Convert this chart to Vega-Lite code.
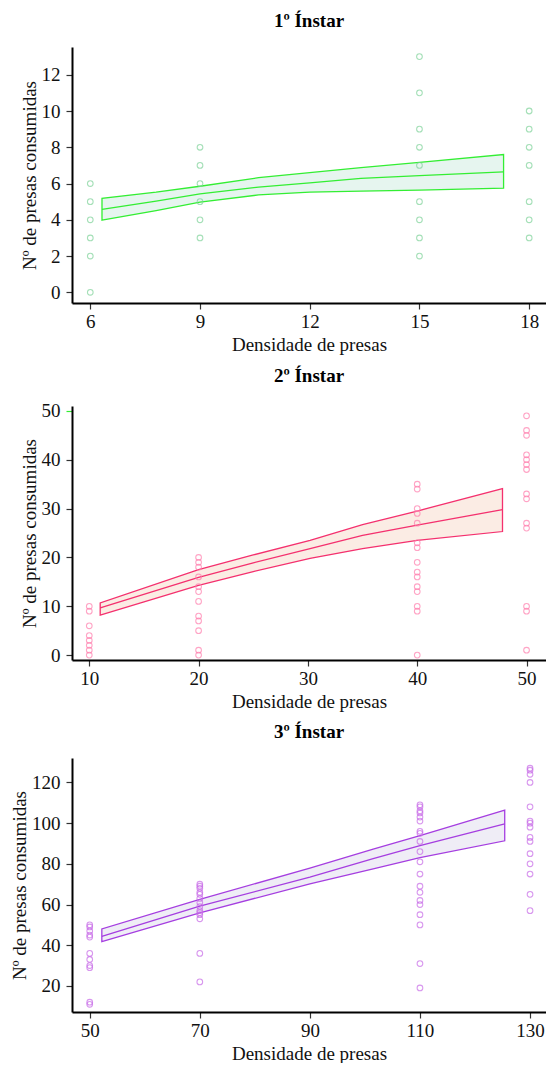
{
  "$schema": "https://vega.github.io/schema/vega-lite/v6.json",
  "background": "white",
  "padding": {"left": 10, "top": 12, "right": 0, "bottom": 0},
  "spacing": 12,
  "config": {
    "view": {"stroke": null},
    "font": "Liberation Serif",
    "axis": {
      "grid": false,
      "domainColor": "#000000",
      "domainWidth": 2,
      "tickColor": "#333333",
      "tickWidth": 1.2,
      "tickSize": 6,
      "labelFont": "Liberation Serif",
      "labelFontSize": 19,
      "labelColor": "#111111",
      "labelOverlap": false,
      "labelFlush": false,
      "titleFont": "Liberation Serif",
      "titleFontSize": 19,
      "titleFontWeight": "normal",
      "titleColor": "#111111"
    },
    "axisX": {"labelPadding": 3, "titlePadding": 4},
    "axisY": {"labelPadding": 6, "titlePadding": 2},
    "title": {"font": "Liberation Serif", "fontSize": 19, "fontWeight": "bold", "color": "#000000", "anchor": "middle", "frame": "group", "offset": 16}
  },
  "datasets": {
    "pts1": [
      {"x": 6, "y": 6}, {"x": 6, "y": 5}, {"x": 6, "y": 4}, {"x": 6, "y": 3}, {"x": 6, "y": 2}, {"x": 6, "y": 0},
      {"x": 9, "y": 8}, {"x": 9, "y": 7}, {"x": 9, "y": 6}, {"x": 9, "y": 5}, {"x": 9, "y": 4}, {"x": 9, "y": 3},
      {"x": 15, "y": 13}, {"x": 15, "y": 11}, {"x": 15, "y": 9}, {"x": 15, "y": 8}, {"x": 15, "y": 7}, {"x": 15, "y": 5}, {"x": 15, "y": 4}, {"x": 15, "y": 3}, {"x": 15, "y": 2},
      {"x": 18, "y": 10}, {"x": 18, "y": 9}, {"x": 18, "y": 8}, {"x": 18, "y": 7}, {"x": 18, "y": 5}, {"x": 18, "y": 4}, {"x": 18, "y": 3}
    ],
    "band1": [
      {"x": 6.32, "lo": 3.98, "y": 4.57, "hi": 5.18},
      {"x": 7.8, "lo": 4.5, "y": 5.03, "hi": 5.52},
      {"x": 9.0, "lo": 4.97, "y": 5.43, "hi": 5.85},
      {"x": 10.6, "lo": 5.37, "y": 5.8, "hi": 6.32},
      {"x": 12.0, "lo": 5.52, "y": 6.04, "hi": 6.6},
      {"x": 13.4, "lo": 5.58, "y": 6.28, "hi": 6.88},
      {"x": 15.0, "lo": 5.64, "y": 6.44, "hi": 7.17},
      {"x": 17.3, "lo": 5.74, "y": 6.64, "hi": 7.6}
    ],
    "pts2": [
      {"x": 10, "y": 10}, {"x": 10, "y": 9}, {"x": 10, "y": 6}, {"x": 10, "y": 4}, {"x": 10, "y": 3}, {"x": 10, "y": 2}, {"x": 10, "y": 1}, {"x": 10, "y": 0},
      {"x": 20, "y": 20}, {"x": 20, "y": 19}, {"x": 20, "y": 18}, {"x": 20, "y": 16}, {"x": 20, "y": 14}, {"x": 20, "y": 13}, {"x": 20, "y": 11}, {"x": 20, "y": 8}, {"x": 20, "y": 7}, {"x": 20, "y": 5}, {"x": 20, "y": 1}, {"x": 20, "y": 0},
      {"x": 40, "y": 35}, {"x": 40, "y": 34}, {"x": 40, "y": 30}, {"x": 40, "y": 29}, {"x": 40, "y": 27}, {"x": 40, "y": 23}, {"x": 40, "y": 22}, {"x": 40, "y": 19}, {"x": 40, "y": 17}, {"x": 40, "y": 16}, {"x": 40, "y": 14}, {"x": 40, "y": 13}, {"x": 40, "y": 10}, {"x": 40, "y": 9}, {"x": 40, "y": 0},
      {"x": 50, "y": 49}, {"x": 50, "y": 46}, {"x": 50, "y": 45}, {"x": 50, "y": 41}, {"x": 50, "y": 40}, {"x": 50, "y": 39}, {"x": 50, "y": 38}, {"x": 50, "y": 33}, {"x": 50, "y": 32}, {"x": 50, "y": 27}, {"x": 50, "y": 26}, {"x": 50, "y": 10}, {"x": 50, "y": 9}, {"x": 50, "y": 1}
    ],
    "band2": [
      {"x": 11.0, "lo": 8.2, "y": 9.66, "hi": 10.7},
      {"x": 20.0, "lo": 14.3, "y": 15.9, "hi": 17.5},
      {"x": 25.0, "lo": 17.1, "y": 18.9, "hi": 20.5},
      {"x": 30.2, "lo": 19.8, "y": 21.8, "hi": 23.5},
      {"x": 35.0, "lo": 21.8, "y": 24.5, "hi": 26.7},
      {"x": 40.0, "lo": 23.5, "y": 26.6, "hi": 29.5},
      {"x": 47.8, "lo": 25.3, "y": 29.8, "hi": 34.1}
    ],
    "pts3": [
      {"x": 50, "y": 50}, {"x": 50, "y": 49}, {"x": 50, "y": 47}, {"x": 50, "y": 45}, {"x": 50, "y": 44}, {"x": 50, "y": 36}, {"x": 50, "y": 33}, {"x": 50, "y": 30}, {"x": 50, "y": 29}, {"x": 50, "y": 12}, {"x": 50, "y": 11},
      {"x": 70, "y": 70}, {"x": 70, "y": 69}, {"x": 70, "y": 68}, {"x": 70, "y": 66}, {"x": 70, "y": 65}, {"x": 70, "y": 63}, {"x": 70, "y": 61}, {"x": 70, "y": 59}, {"x": 70, "y": 57}, {"x": 70, "y": 56}, {"x": 70, "y": 55}, {"x": 70, "y": 53}, {"x": 70, "y": 36}, {"x": 70, "y": 22},
      {"x": 110, "y": 109}, {"x": 110, "y": 108}, {"x": 110, "y": 106}, {"x": 110, "y": 105}, {"x": 110, "y": 103}, {"x": 110, "y": 101}, {"x": 110, "y": 96}, {"x": 110, "y": 95}, {"x": 110, "y": 91}, {"x": 110, "y": 86}, {"x": 110, "y": 81}, {"x": 110, "y": 75}, {"x": 110, "y": 69}, {"x": 110, "y": 66}, {"x": 110, "y": 62}, {"x": 110, "y": 60}, {"x": 110, "y": 55}, {"x": 110, "y": 50}, {"x": 110, "y": 31}, {"x": 110, "y": 19},
      {"x": 130, "y": 127}, {"x": 130, "y": 126}, {"x": 130, "y": 124}, {"x": 130, "y": 120}, {"x": 130, "y": 108}, {"x": 130, "y": 101}, {"x": 130, "y": 100}, {"x": 130, "y": 98}, {"x": 130, "y": 93}, {"x": 130, "y": 91}, {"x": 130, "y": 85}, {"x": 130, "y": 80}, {"x": 130, "y": 75}, {"x": 130, "y": 65}, {"x": 130, "y": 57}
    ],
    "band3": [
      {"x": 52.2, "lo": 41.8, "y": 44.4, "hi": 48.0},
      {"x": 70.0, "lo": 55.9, "y": 59.2, "hi": 62.5},
      {"x": 90.0, "lo": 70.2, "y": 73.5, "hi": 77.9},
      {"x": 101.5, "lo": 77.5, "y": 82.5, "hi": 87.2},
      {"x": 110.0, "lo": 83.0, "y": 88.9, "hi": 93.9},
      {"x": 125.4, "lo": 91.3, "y": 99.6, "hi": 106.4}
    ]
  },
  "vconcat": [
    {
      "title": {"text": "1º Ínstar"},
      "width": 474,
      "height": 256,
      "encoding": {
        "x": {"field": "x", "type": "quantitative", "scale": {"domain": [5.5, 18.46], "nice": false, "zero": false}, "axis": {"values": [6, 9, 12, 15, 18], "title": "Densidade de presas"}}
      },
      "layer": [
        {
          "data": {"name": "band1"},
          "mark": {"type": "area", "fill": "#e6f5ef", "fillOpacity": 1, "stroke": "#33ee33", "strokeWidth": 1.3},
          "encoding": {
            "y": {"field": "lo", "type": "quantitative", "scale": {"domain": [-0.59, 13.53], "nice": false, "zero": false}, "axis": {"values": [0, 2, 4, 6, 8, 10, 12], "title": "Nº de presas consumidas"}},
            "y2": {"field": "hi"}
          }
        },
        {
          "data": {"name": "band1"},
          "mark": {"type": "line", "color": "#33ee33", "strokeWidth": 1.3},
          "encoding": {
            "y": {"field": "y", "type": "quantitative", "scale": {"domain": [-0.59, 13.53], "nice": false, "zero": false}, "axis": {"values": [0, 2, 4, 6, 8, 10, 12], "title": "Nº de presas consumidas"}}
          }
        },
        {
          "data": {"name": "pts1"},
          "mark": {"type": "point", "shape": "circle", "filled": false, "color": "#7fd39a", "size": 32, "strokeWidth": 1.1},
          "encoding": {
            "y": {"field": "y", "type": "quantitative", "scale": {"domain": [-0.59, 13.53], "nice": false, "zero": false}, "axis": {"values": [0, 2, 4, 6, 8, 10, 12], "title": "Nº de presas consumidas"}}
          }
        }
      ]
    },
    {
      "title": {"text": "2º Ínstar"},
      "width": 474,
      "height": 254,
      "encoding": {
        "x": {"field": "x", "type": "quantitative", "scale": {"domain": [8.42, 51.78], "nice": false, "zero": false}, "axis": {"values": [10, 20, 30, 40, 50], "title": "Densidade de presas"}}
      },
      "layer": [
        {
          "data": {"name": "band2"},
          "mark": {"type": "area", "fill": "#fbece4", "fillOpacity": 1, "stroke": "#f4306e", "strokeWidth": 1.3},
          "encoding": {
            "y": {"field": "lo", "type": "quantitative", "scale": {"domain": [-1, 51], "nice": false, "zero": false}, "axis": {"values": [0, 10, 20, 30, 40, 50], "title": "Nº de presas consumidas", "tickColor": {"condition": {"test": "datum.value === 50", "value": "#33ee33"}, "value": "#333333"}}},
            "y2": {"field": "hi"}
          }
        },
        {
          "data": {"name": "band2"},
          "mark": {"type": "line", "color": "#f4306e", "strokeWidth": 1.3},
          "encoding": {
            "y": {"field": "y", "type": "quantitative", "scale": {"domain": [-1, 51], "nice": false, "zero": false}, "axis": {"values": [0, 10, 20, 30, 40, 50], "title": "Nº de presas consumidas", "tickColor": {"condition": {"test": "datum.value === 50", "value": "#33ee33"}, "value": "#333333"}}}
          }
        },
        {
          "data": {"name": "pts2"},
          "mark": {"type": "point", "shape": "circle", "filled": false, "color": "#ff7fae", "size": 32, "strokeWidth": 1.1},
          "encoding": {
            "y": {"field": "y", "type": "quantitative", "scale": {"domain": [-1, 51], "nice": false, "zero": false}, "axis": {"values": [0, 10, 20, 30, 40, 50], "title": "Nº de presas consumidas", "tickColor": {"condition": {"test": "datum.value === 50", "value": "#33ee33"}, "value": "#333333"}}}
          }
        }
      ]
    },
    {
      "title": {"text": "3º Ínstar"},
      "width": 474,
      "height": 254,
      "encoding": {
        "x": {"field": "x", "type": "quantitative", "scale": {"domain": [46.78, 132.9], "nice": false, "zero": false}, "axis": {"values": [50, 70, 90, 110, 130], "title": "Densidade de presas"}}
      },
      "layer": [
        {
          "data": {"name": "band3"},
          "mark": {"type": "area", "fill": "#efedf6", "fillOpacity": 1, "stroke": "#a53ee0", "strokeWidth": 1.3},
          "encoding": {
            "y": {"field": "lo", "type": "quantitative", "scale": {"domain": [7.2, 132], "nice": false, "zero": false}, "axis": {"values": [20, 40, 60, 80, 100, 120], "title": "Nº de presas consumidas"}},
            "y2": {"field": "hi"}
          }
        },
        {
          "data": {"name": "band3"},
          "mark": {"type": "line", "color": "#a53ee0", "strokeWidth": 1.3},
          "encoding": {
            "y": {"field": "y", "type": "quantitative", "scale": {"domain": [7.2, 132], "nice": false, "zero": false}, "axis": {"values": [20, 40, 60, 80, 100, 120], "title": "Nº de presas consumidas"}}
          }
        },
        {
          "data": {"name": "pts3"},
          "mark": {"type": "point", "shape": "circle", "filled": false, "color": "#c86be8", "size": 32, "strokeWidth": 1.1},
          "encoding": {
            "y": {"field": "y", "type": "quantitative", "scale": {"domain": [7.2, 132], "nice": false, "zero": false}, "axis": {"values": [20, 40, 60, 80, 100, 120], "title": "Nº de presas consumidas"}}
          }
        }
      ]
    }
  ]
}
